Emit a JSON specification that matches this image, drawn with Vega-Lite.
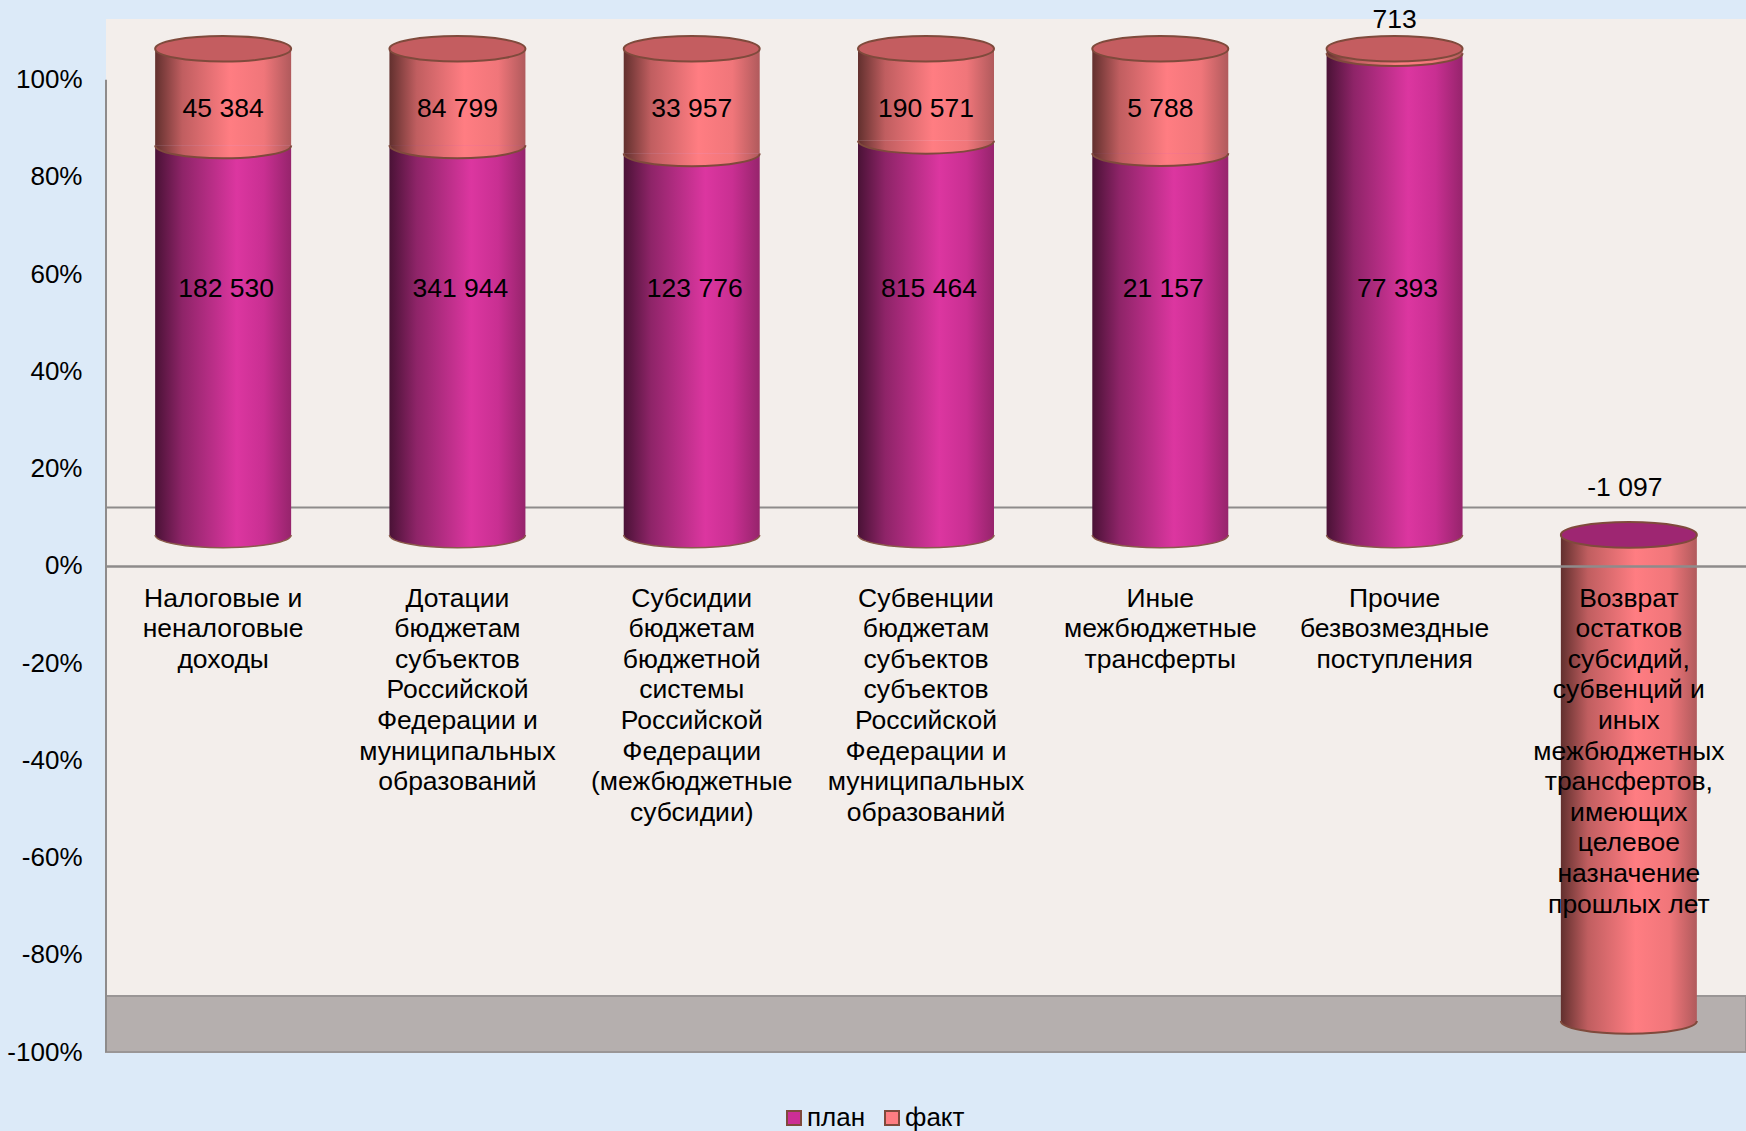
{"$schema":"https://vega.github.io/schema/vega-lite/v6.json","width":1640,"height":1033,"autosize":"none","padding":{"left":106,"top":19,"right":0,"bottom":79},"background":"#DCEAF8","view":{"fill":"#F3EEEB","stroke":null},"config":{"font":"Liberation Sans","text":{"font":"Liberation Sans"},"axisX":{"title":null,"offset":-486,"labelExpr":"split(datum.label,'|')","labelAngle":0,"labelFontSize":26.5,"labelColor":"#000","labelLineHeight":30.6,"labelPadding":19,"labelBaseline":"top","labelLimit":0,"labelOverlap":false,"labelFlush":false,"ticks":false,"domainColor":"#8E8B8B","domainWidth":2.5,"grid":false}},"data":{"values":[{"category":"Налоговые и|неналоговые|доходы","series":"план","value":182530},{"category":"Налоговые и|неналоговые|доходы","series":"факт","value":45384},{"category":"Дотации|бюджетам|субъектов|Российской|Федерации и|муниципальных|образований","series":"план","value":341944},{"category":"Дотации|бюджетам|субъектов|Российской|Федерации и|муниципальных|образований","series":"факт","value":84799},{"category":"Субсидии|бюджетам|бюджетной|системы|Российской|Федерации|(межбюджетные|субсидии)","series":"план","value":123776},{"category":"Субсидии|бюджетам|бюджетной|системы|Российской|Федерации|(межбюджетные|субсидии)","series":"факт","value":33957},{"category":"Субвенции|бюджетам|субъектов|субъектов|Российской|Федерации и|муниципальных|образований","series":"план","value":815464},{"category":"Субвенции|бюджетам|субъектов|субъектов|Российской|Федерации и|муниципальных|образований","series":"факт","value":190571},{"category":"Иные|межбюджетные|трансферты","series":"план","value":21157},{"category":"Иные|межбюджетные|трансферты","series":"факт","value":5788},{"category":"Прочие|безвозмездные|поступления","series":"план","value":77393},{"category":"Прочие|безвозмездные|поступления","series":"факт","value":713},{"category":"Возврат|остатков|субсидий,|субвенций и|иных|межбюджетных|трансфертов,|имеющих|целевое|назначение|прошлых лет","series":"план","value":0},{"category":"Возврат|остатков|субсидий,|субвенций и|иных|межбюджетных|трансфертов,|имеющих|целевое|назначение|прошлых лет","series":"факт","value":-1097}]},"transform":[{"calculate":"abs(datum.value)","as":"magnitude"},{"joinaggregate":[{"op":"sum","field":"magnitude","as":"total"}],"groupby":["category"]},{"calculate":"datum.value/datum.total","as":"share"},{"stack":"share","groupby":["category"],"sort":[{"field":"series","order":"ascending"}],"offset":"zero","as":["s0","s1"]},{"calculate":"min(datum.s0,datum.s1)","as":"low"},{"calculate":"max(datum.s0,datum.s1)","as":"high"},{"calculate":"replace(replace(format(datum.value,','),',',' '),'−','-')","as":"text"}],"layer":[{"data":{"values":[{}]},"mark":{"type":"rect","fill":"#B5AFAE","stroke":"#9A9696","strokeWidth":2},"encoding":{"y":{"datum":-0.885,"type":"quantitative","scale":{"domain":[-1,1.125],"nice":false,"zero":false},"axis":{"title":null,"values":[-1,-0.8,-0.6,-0.4,-0.2,0,0.2,0.4,0.6,0.8,1],"labelExpr":"round(datum.value*100)+'%'","labelFontSize":26,"labelColor":"#000","labelPadding":24,"domain":false,"ticks":false,"grid":false}},"y2":{"datum":-1}}},{"data":{"values":[{}]},"mark":{"type":"rule","color":"#8E8B8B","strokeWidth":2},"encoding":{"y":{"datum":0.12,"type":"quantitative"}}},{"transform":[{"filter":"datum.series==='план' && datum.value>0"}],"mark":{"type":"point","filled":true,"shape":"M-1,0A1,0.188,0,0,0,1,0","size":18496,"yOffset":-31,"opacity":1,"fill":{"gradient":"linear","x1":0,"x2":1,"y1":0,"y2":0,"stops":[{"offset":0,"color":"#4A1236"},{"offset":0.2,"color":"#8E2468"},{"offset":0.6,"color":"#DC36A0"},{"offset":0.8,"color":"#C92F92"},{"offset":1,"color":"#96246C"}]},"stroke":"#8A5A4A","strokeWidth":1.5},"encoding":{"x":{"field":"category","type":"nominal","sort":null,"title":null,"axis":{"zindex":1},"scale":{"type":"band","paddingInner":0,"paddingOuter":0}},"y":{"datum":0,"type":"quantitative"}}},{"transform":[{"filter":"datum.series==='план'"}],"mark":{"type":"bar","size":136,"yOffset":-31,"y2Offset":-31,"fill":{"gradient":"linear","x1":0,"x2":1,"y1":0,"y2":0,"stops":[{"offset":0,"color":"#4A1236"},{"offset":0.2,"color":"#8E2468"},{"offset":0.6,"color":"#DC36A0"},{"offset":0.8,"color":"#C92F92"},{"offset":1,"color":"#96246C"}]}},"encoding":{"x":{"field":"category","type":"nominal","sort":null,"title":null,"axis":{"zindex":1},"scale":{"type":"band"}},"y":{"field":"low","type":"quantitative"},"y2":{"field":"high"}}},{"transform":[{"filter":"datum.series==='факт'"}],"mark":{"type":"bar","size":136,"yOffset":-31,"y2Offset":-31,"fill":{"gradient":"linear","x1":0,"x2":1,"y1":0,"y2":0,"stops":[{"offset":0,"color":"#62302E"},{"offset":0.2,"color":"#C05E60"},{"offset":0.55,"color":"#FF7D82"},{"offset":0.8,"color":"#F0767A"},{"offset":1,"color":"#B05A5C"}]}},"encoding":{"x":{"field":"category","type":"nominal","sort":null,"title":null,"axis":{"zindex":1},"scale":{"type":"band"}},"y":{"field":"low","type":"quantitative"},"y2":{"field":"high"}}},{"transform":[{"filter":"datum.series==='факт'"}],"mark":{"type":"point","filled":true,"shape":"M-1,0A1,0.188,0,0,0,1,0","size":18496,"yOffset":-31,"opacity":1,"fill":{"gradient":"linear","x1":0,"x2":1,"y1":0,"y2":0,"stops":[{"offset":0,"color":"#62302E"},{"offset":0.2,"color":"#C05E60"},{"offset":0.55,"color":"#FF7D82"},{"offset":0.8,"color":"#F0767A"},{"offset":1,"color":"#B05A5C"}]},"stroke":"#7F4A3C","strokeWidth":2},"encoding":{"x":{"field":"category","type":"nominal","sort":null,"title":null,"axis":{"zindex":1},"scale":{"type":"band"}},"y":{"field":"low","type":"quantitative"}}},{"transform":[{"filter":"datum.series==='факт'"}],"mark":{"type":"point","filled":true,"shape":"M-1,0A1,0.188,0,1,1,1,0A1,0.188,0,1,1,-1,0Z","size":18496,"yOffset":-31,"opacity":1,"stroke":"#7F4A3C","strokeWidth":2},"encoding":{"x":{"field":"category","type":"nominal","sort":null,"title":null,"axis":{"zindex":1},"scale":{"type":"band"}},"y":{"field":"high","type":"quantitative"},"fill":{"condition":{"test":"datum.value<0","value":"#9E2672"},"value":"#C45D60"}}},{"data":{"values":[{}]},"mark":{"type":"rule","color":"#8E8B8B","strokeWidth":2},"encoding":{"x":{"datum":"Налоговые и|неналоговые|доходы","type":"nominal","bandPosition":0,"title":null,"axis":{"zindex":1},"scale":{"type":"band"}},"y":{"datum":1,"type":"quantitative"},"y2":{"datum":-1}}},{"transform":[{"filter":"datum.series==='план' && datum.value>0"}],"mark":{"type":"text","fontSize":26.5,"color":"#000","dx":3},"encoding":{"x":{"field":"category","type":"nominal","sort":null,"title":null,"axis":{"zindex":1},"scale":{"type":"band"}},"y":{"datum":0.569,"type":"quantitative"},"text":{"field":"text"}}},{"transform":[{"filter":"datum.series==='факт' && datum.value>=5000"}],"mark":{"type":"text","fontSize":26.5,"color":"#000"},"encoding":{"x":{"field":"category","type":"nominal","sort":null,"title":null,"axis":{"zindex":1},"scale":{"type":"band"}},"y":{"datum":0.94,"type":"quantitative"},"text":{"field":"text"}}},{"transform":[{"filter":"datum.value===713"}],"mark":{"type":"text","fontSize":26.5,"color":"#000"},"encoding":{"x":{"field":"category","type":"nominal","sort":null,"title":null,"axis":{"zindex":1},"scale":{"type":"band"}},"y":{"datum":1.123,"type":"quantitative"},"text":{"field":"text"}}},{"transform":[{"filter":"datum.value<0"}],"mark":{"type":"text","fontSize":26.5,"color":"#000","dx":-4},"encoding":{"x":{"field":"category","type":"nominal","sort":null,"title":null,"axis":{"zindex":1},"scale":{"type":"band"}},"y":{"datum":0.161,"type":"quantitative"},"text":{"field":"text"}}},{"mark":{"type":"point","filled":true,"opacity":0,"size":10},"encoding":{"x":{"field":"category","type":"nominal","sort":null,"title":null,"axis":{"zindex":1},"scale":{"type":"band"}},"y":{"field":"high","type":"quantitative"},"color":{"field":"series","type":"nominal","scale":{"domain":["план","факт"],"range":["#CC2E96","#FF7D82"]},"legend":{"title":null,"orient":"none","legendX":675,"legendY":1086,"direction":"horizontal","columns":2,"symbolType":"square","symbolSize":196,"symbolOpacity":1,"symbolStrokeColor":"#7F4A3C","symbolStrokeWidth":2,"labelFontSize":26,"labelColor":"#000","labelOffset":0,"columnPadding":13,"padding":0}}}}]}
